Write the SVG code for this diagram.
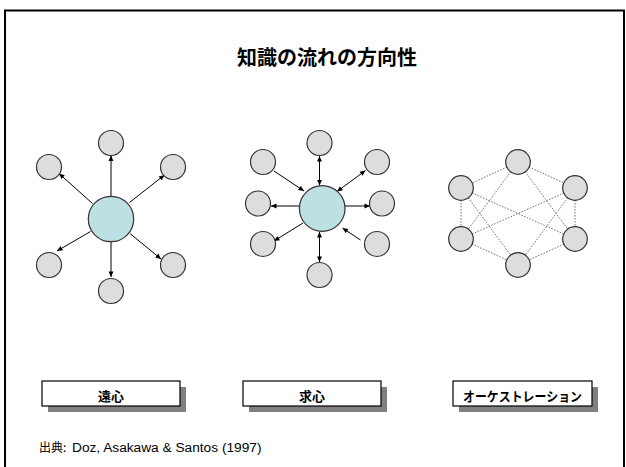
<svg xmlns="http://www.w3.org/2000/svg" width="626" height="467" viewBox="0 0 626 467">
<defs>
<style>
.o{fill:#dddddd;stroke:#333;stroke-width:1.2}
.c{fill:#bde0e3;stroke:#333;stroke-width:1.2}
.a{stroke:#000;stroke-width:1;fill:none}
.d{stroke:#666;stroke-width:0.9;stroke-dasharray:1.6 1.4;fill:none}
.jp{font-family:"Noto Sans CJK JP","Noto Sans CJK SC",sans-serif}
.lb{font-family:"Noto Sans CJK JP",sans-serif;font-weight:bold;font-size:13px;text-anchor:middle}
.box{fill:#fff;stroke:#000;stroke-width:1.2}
.sh{fill:#808080}
</style>
<marker id="ah" viewBox="0 0 10 10" refX="10" refY="5" markerWidth="6" markerHeight="5.5" markerUnits="userSpaceOnUse" orient="auto-start-reverse">
<path d="M0,0.5 L10,5 L0,9.5 z" fill="#000"/>
</marker>
</defs>
<rect x="0" y="0" width="626" height="467" fill="#fff"/>
<rect id="frame" x="5" y="10.5" width="619" height="470" fill="none" stroke="#000" stroke-width="2"/>
<text id="title" x="327" y="65" class="jp" font-size="20" font-weight="bold" text-anchor="middle">知識の流れの方向性</text>

<g id="connectors">
<!-- left: centrifugal -->
<line class="a" x1="111" y1="196.5" x2="111" y2="155.5" marker-end="url(#ah)"/>
<line class="a" x1="92.5" y1="203.5" x2="59" y2="173.5" marker-end="url(#ah)"/>
<line class="a" x1="129.5" y1="202.5" x2="164.5" y2="175" marker-end="url(#ah)"/>
<line class="a" x1="90.5" y1="231.5" x2="57" y2="251" marker-end="url(#ah)"/>
<line class="a" x1="130" y1="233.5" x2="161" y2="259" marker-end="url(#ah)"/>
<line class="a" x1="111" y1="242" x2="111" y2="277" marker-end="url(#ah)"/>
<!-- middle: centripetal -->
<line class="a" x1="319.5" y1="156" x2="319.5" y2="185.5" marker-start="url(#ah)" marker-end="url(#ah)"/>
<line class="a" x1="274" y1="171" x2="304" y2="191" marker-end="url(#ah)"/>
<line class="a" x1="337" y1="191.5" x2="365.5" y2="170.5" marker-start="url(#ah)" marker-end="url(#ah)"/>
<line class="a" x1="299.5" y1="206" x2="271" y2="206" marker-end="url(#ah)"/>
<line class="a" x1="345" y1="206" x2="370" y2="206" marker-end="url(#ah)"/>
<line class="a" x1="303" y1="223" x2="274" y2="241" marker-end="url(#ah)"/>
<line class="a" x1="360.5" y1="240" x2="342.5" y2="228" marker-end="url(#ah)"/>
<line class="a" x1="319.5" y1="232" x2="319.5" y2="262" marker-start="url(#ah)" marker-end="url(#ah)"/>
<!-- right: orchestration -->
<line class="d" x1="518" y1="162" x2="461" y2="188"/>
<line class="d" x1="518" y1="162" x2="575" y2="188"/>
<line class="d" x1="461" y1="188" x2="461" y2="239"/>
<line class="d" x1="575" y1="188" x2="575" y2="239"/>
<line class="d" x1="461" y1="239" x2="518" y2="265"/>
<line class="d" x1="575" y1="239" x2="518" y2="265"/>
<line class="d" x1="518" y1="162" x2="461" y2="239"/>
<line class="d" x1="518" y1="162" x2="575" y2="239"/>
<line class="d" x1="461" y1="188" x2="575" y2="239"/>
<line class="d" x1="461" y1="188" x2="518" y2="265"/>
<line class="d" x1="575" y1="188" x2="461" y2="239"/>
<line class="d" x1="575" y1="188" x2="518" y2="265"/>
</g>

<g id="centrifugal">
<circle id="L0" class="c" cx="111" cy="219" r="22.7"/>
<circle id="L1" class="o" cx="111" cy="143" r="12.5"/>
<circle id="L2" class="o" cx="49" cy="167" r="12.5"/>
<circle id="L3" class="o" cx="173" cy="167" r="12.5"/>
<circle id="L4" class="o" cx="49" cy="265" r="12.5"/>
<circle id="L5" class="o" cx="173" cy="265" r="12.5"/>
<circle id="L6" class="o" cx="111" cy="291" r="12.5"/>
</g>

<g id="centripetal">
<circle id="M0" class="c" cx="322.2" cy="208.5" r="22.8"/>
<circle id="M1" class="o" cx="319.5" cy="143" r="12.5"/>
<circle id="M2" class="o" cx="263" cy="162" r="12.5"/>
<circle id="M3" class="o" cx="377" cy="162" r="12.5"/>
<circle id="M4" class="o" cx="258" cy="203.5" r="12.5"/>
<circle id="M5" class="o" cx="382" cy="203.5" r="12.5"/>
<circle id="M6" class="o" cx="263" cy="244" r="12.5"/>
<circle id="M7" class="o" cx="377" cy="244" r="12.5"/>
<circle id="M8" class="o" cx="319.5" cy="275" r="12.5"/>
</g>

<g id="orchestration">
<circle id="R1" class="o" cx="518" cy="162" r="12.3"/>
<circle id="R2" class="o" cx="461" cy="188" r="12.3"/>
<circle id="R3" class="o" cx="575" cy="188" r="12.3"/>
<circle id="R4" class="o" cx="461" cy="239" r="12.3"/>
<circle id="R5" class="o" cx="575" cy="239" r="12.3"/>
<circle id="R6" class="o" cx="518" cy="265" r="12.3"/>
</g>

<g id="label-centrifugal">
<rect class="sh" x="48" y="387" width="138" height="25"/>
<rect class="box" x="42" y="381" width="138" height="25"/>
<text class="lb" x="111" y="401">遠心</text>
</g>
<g id="label-centripetal">
<rect class="sh" x="249" y="387" width="138" height="25"/>
<rect class="box" x="243" y="381" width="138" height="25"/>
<text class="lb" x="312" y="401">求心</text>
</g>
<g id="label-orchestration">
<rect class="sh" x="459" y="387" width="139" height="25"/>
<rect class="box" x="453" y="381" width="139" height="25"/>
<text class="lb" x="522.5" y="401" textLength="119" lengthAdjust="spacingAndGlyphs">オーケストレーション</text>
</g>

<text id="source" x="39" y="452" font-size="12"><tspan class="jp">出典:</tspan><tspan x="72" font-family="Liberation Sans, Arial, sans-serif" font-size="13.7">Doz, Asakawa &amp; Santos (1997)</tspan></text>
</svg>
